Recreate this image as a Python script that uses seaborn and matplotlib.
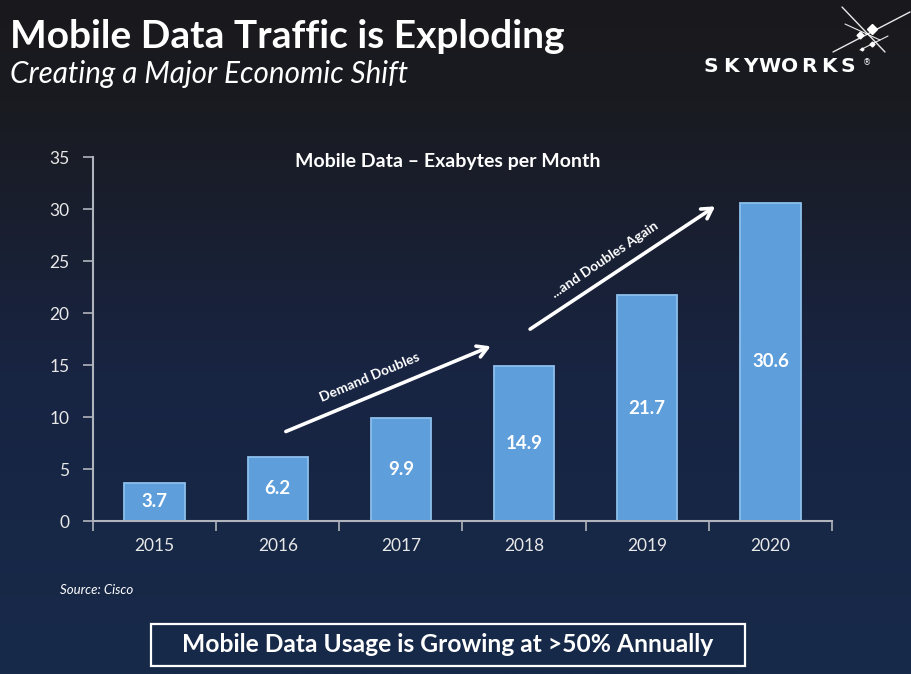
import numpy as np
import pandas as pd
import matplotlib
matplotlib.use("Agg")
import matplotlib.pyplot as plt
from matplotlib.colors import LinearSegmentedColormap
from matplotlib.patches import Rectangle
import seaborn as sns

years = ["2015", "2016", "2017", "2018", "2019", "2020"]
values = [3.7, 6.2, 9.9, 14.9, 21.7, 30.6]
value_labels = ["3.7", "6.2", "9.9", "14.9", "21.7", "30.6"]
y_ticks = [0, 5, 10, 15, 20, 25, 30, 35]

title = "Mobile Data Traffic is Exploding"
subtitle = "Creating a Major Economic Shift"
chart_title = "Mobile Data \u2013 Exabytes per Month"
source = "Source: Cisco"
callout = "Mobile Data Usage is Growing at >50% Annually"
arrow1_text = "Demand Doubles"
arrow2_text = "...and Doubles Again"
logo = "SKYWORKS"

sns.set_theme(style="dark")
plt.rcParams['font.family'] = ['Lato', 'DejaVu Sans']

W, H = 911, 674
fig = plt.figure(figsize=(W / 100, H / 100), dpi=100)

# gradient background
bg = fig.add_axes([0, 0, 1, 1], zorder=-10)
cmap = LinearSegmentedColormap.from_list("bg", [(0, "#19191d"), (0.15, "#1a1b21"), (0.55, "#182442"), (1, "#172a4a")])
grad = np.linspace(0, 1, 256).reshape(-1, 1)
bg.imshow(grad, aspect="auto", cmap=cmap, extent=[0, 1, 0, 1], origin="upper")
bg.axis("off")

df = pd.DataFrame({"year": years, "value": values})
ax = fig.add_axes([93 / W, 1 - 521 / H, (832 - 93) / W, (521 - 157) / H])
ax.set_facecolor("none")
sns.barplot(data=df, x="year", y="value", ax=ax, color="#5d9edb", saturation=1,
            width=0.49, edgecolor="#8cc0ec", linewidth=1.3)
for c in ax.containers:
    ax.bar_label(c, labels=value_labels, label_type="center", color="white",
                 fontsize=13.5, fontweight="bold")

ax.set_xlim(-0.5, len(years) - 0.5)
ax.set_ylim(0, 35)
ax.set_yticks(y_ticks)
ax.set_yticklabels([str(t) for t in y_ticks], color="#e8e8e8", fontsize=12.5)
ax.set_xlabel("")
ax.set_ylabel("")
ax.tick_params(axis="x", length=0, colors="#e8e8e8", labelsize=12.5, pad=12)
ax.tick_params(axis="y", length=7, width=1.2, color="#b0b4bc", pad=10, direction="out", left=True)
ax.set_xticks(np.arange(-0.5, len(years), 1.0), minor=True)
ax.tick_params(axis="x", which="minor", length=7, width=1.2, color="#b0b4bc", direction="out", bottom=True)
ax.grid(False)
for s in ["top", "right"]:
    ax.spines[s].set_visible(False)
for s in ["left", "bottom"]:
    ax.spines[s].set_visible(True)
    ax.spines[s].set_color("#b0b4bc")
    ax.spines[s].set_linewidth(1.5)

# arrows
ax.annotate("", xy=(2.75, 16.9), xytext=(1.045, 8.5),
            arrowprops=dict(arrowstyle="->,head_length=0.6,head_width=0.35", color="white", lw=2.6))
ax.annotate("", xy=(4.57, 30.4), xytext=(3.03, 18.3),
            arrowprops=dict(arrowstyle="->,head_length=0.6,head_width=0.35", color="white", lw=2.6))
ax.text(1.75, 13.85, arrow1_text, rotation=23, color="white", fontsize=10, fontweight="bold",
        ha="center", va="center", rotation_mode="anchor")
ax.text(3.66, 25.1, arrow2_text, rotation=34, color="white", fontsize=10, fontweight="bold",
        ha="center", va="center", rotation_mode="anchor")

fig.text(448 / W, 1 - 162 / H, chart_title, ha="center", va="center",
         color="white", fontsize=14, fontweight="bold")

# headings
fig.text(10 / W, 1 - 36 / H, title, color="white", fontsize=28, fontweight="bold", va="center", ha="left")
fig.text(10 / W, 1 - 74 / H, subtitle, color="white", fontsize=21.3, style="italic", va="center", ha="left")
fig.text(60 / W, 1 - 590 / H, source, color="white", fontsize=9.5, style="italic", va="center", ha="left")

# callout box
fig.patches.append(Rectangle((151 / W, 1 - 666 / H), (745 - 151) / W, (666 - 624) / H,
                             transform=fig.transFigure, fill=False, edgecolor="white", linewidth=1.6))
fig.text(448 / W, 1 - 645 / H, callout, color="white", fontsize=17.7, fontweight="bold", ha="center", va="center")

# logo
for i, ch in enumerate(logo):
    fig.text((711 + i * 19.6) / W, 1 - 67 / H, ch, color="white", fontsize=14.5, fontweight="bold",
             ha="center", va="center", family=["DejaVu Sans"])
fig.text(863 / W, 1 - 63 / H, "\u00ae", color="white", fontsize=6, ha="left", va="center",
         family=["DejaVu Sans"])

def fl(x0, y0, x1, y1, lw=1.0):
    fig.add_artist(plt.Line2D([x0 / W, x1 / W], [1 - y0 / H, 1 - y1 / H], color="white", lw=lw, alpha=0.9))

fl(842, 7, 885, 52, 1.0)
fl(910, 12, 833, 52, 1.0)
fl(845, 24, 880, 40, 0.8)
fl(888, 36, 860, 50, 0.8)
for (px, py, s) in [(872, 29, 22), (860, 35, 14), (872, 44, 10), (862, 49, 6)]:
    fig.add_artist(plt.Line2D([px / W], [1 - py / H], marker="D", color="white", markersize=s / 4, lw=0))

fig.savefig("out.png", dpi=100, facecolor=fig.get_facecolor())
